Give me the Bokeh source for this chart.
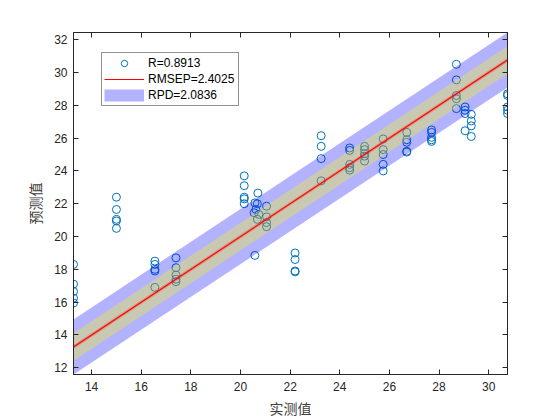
from bokeh.plotting import figure
from bokeh.models import Range1d, LinearAxis, FixedTicker, Legend, LegendItem
from bokeh.embed import file_html
from bokeh.resources import INLINE

# measured (x) and predicted (y) values of the prediction set
measured = [
    13.27, 13.27, 13.27, 13.27, 13.27,
    15.0, 15.0, 15.0, 15.0, 15.0,
    16.55, 16.55, 16.55, 16.55, 16.55,
    17.4, 17.4, 17.4, 17.4, 17.4,
    20.15, 20.15, 20.15, 20.15, 20.15,
    20.7, 20.58, 20.68, 20.62, 20.55, 20.74, 20.68, 20.58,
    21.05, 21.05, 21.05, 21.05,
    22.2, 22.2, 22.2, 22.2,
    23.25, 23.25, 23.25, 23.25,
    24.4, 24.4, 24.4, 24.4, 24.4,
    25.0, 25.0, 25.0, 25.0, 25.0,
    25.75, 25.75, 25.75, 25.75, 25.75,
    26.7, 26.7, 26.7, 26.7, 26.7,
    27.7, 27.7, 27.7, 27.7, 27.7,
    28.7, 28.7, 28.7, 28.7, 28.7,
    29.05, 29.05, 29.05, 29.05,
    29.3, 29.3, 29.3, 29.3,
    30.76, 30.76, 30.76, 30.76, 30.76,
]
predicted = [
    18.3, 17.1, 16.65, 16.25, 15.95,
    22.4, 21.65, 21.05, 20.95, 20.5,
    18.5, 18.3, 18.0, 17.9, 16.9,
    18.7, 18.1, 17.65, 17.4, 17.25,
    23.7, 23.1, 22.4, 22.3, 22.0,
    22.65, 22.05, 22.0, 21.65, 21.45, 21.35, 21.05, 18.85,
    21.85, 21.2, 20.85, 20.6,
    19.0, 18.6, 17.9, 17.85,
    26.15, 25.5, 24.75, 23.4,
    25.4, 25.25, 24.4, 24.2, 24.05,
    25.5, 25.3, 25.05, 24.9, 24.6,
    25.95, 25.3, 25.0, 24.4, 24.0,
    26.35, 25.9, 25.75, 25.2, 25.15,
    26.5, 26.35, 26.05, 25.9, 25.8,
    30.5, 29.55, 28.6, 28.4, 27.8,
    27.9, 27.7, 27.5, 26.45,
    27.45, 27.05, 26.75, 26.1,
    28.7, 28.6, 27.9, 27.7, 27.5,
]

stat_labels = ["R=0.8913", "RMSEP=2.4025", "RPD=2.0836"]
x_ticks = [14, 16, 18, 20, 22, 24, 26, 28, 30]
y_ticks = [12, 14, 16, 18, 20, 22, 24, 26, 28, 30, 32]

# half-widths of the tolerance bands around the 1:1 line
outer_band = 1.68
inner_band = 0.84
line_band = 0.12

x_lo, x_hi = min(measured), max(measured)
y_lo, y_hi = x_lo - outer_band, x_hi + outer_band

AX = "#262626"
FONT = "Liberation Sans"
CJK = "Noto Sans CJK SC"

p = figure(width=560, height=420, output_backend="svg", toolbar_location=None,
           x_range=Range1d(x_lo, x_hi), y_range=Range1d(y_lo, y_hi),
           min_border_left=73, min_border_right=53, min_border_top=32,
           min_border_bottom=46, background_fill_color="white",
           border_fill_color="white", outline_line_color=AX)
p.xgrid.visible = False
p.ygrid.visible = False

# scatter of predicted vs measured
pts = p.scatter(measured, predicted, marker="circle", size=8,
                fill_color=None, line_color="#0072BD", line_width=1)

# bands and fitted line (drawn over the points, translucent)
band_x = [x_lo, x_hi]
p.varea(x=band_x, y1=[v - outer_band for v in band_x],
        y2=[v + outer_band for v in band_x], fill_color="blue", fill_alpha=0.3)
p.varea(x=band_x, y1=[v - inner_band for v in band_x],
        y2=[v + inner_band for v in band_x], fill_color="yellow", fill_alpha=0.3)
p.varea(x=band_x, y1=[v - line_band for v in band_x],
        y2=[v + line_band for v in band_x], fill_color="red", fill_alpha=0.25)
fit = p.line(band_x, band_x, line_color="red", line_width=1.1)

# legend swatch for the outer band (no visible data)
nan = float("nan")
swatch = p.line(x=[nan, nan], y=[nan, nan], line_color="blue", line_alpha=0.3,
                line_width=12)

# axes
for ax, ticks in ((p.xaxis[0], x_ticks), (p.yaxis[0], y_ticks)):
    ax.ticker = FixedTicker(ticks=ticks)
    ax.major_tick_in = 5
    ax.major_tick_out = 0
    ax.minor_tick_in = 0
    ax.minor_tick_out = 0
    ax.axis_line_color = AX
    ax.major_tick_line_color = AX
    ax.major_label_text_font = FONT
    ax.major_label_text_font_size = "12px"
    ax.major_label_text_color = AX
    ax.axis_label_text_font = CJK
    ax.axis_label_text_font_size = "14px"
    ax.axis_label_text_font_style = "normal"
    ax.axis_label_text_color = "#404040"

p.xaxis[0].axis_label = "实测值"
p.yaxis[0].axis_label = "预测值"
p.xaxis[0].major_label_standoff = 7
p.xaxis[0].axis_label_standoff = 4
p.yaxis[0].major_label_standoff = 6
p.yaxis[0].axis_label_standoff = 6

# mirrored tick marks on the top and right edges
for place, ticks in (("above", x_ticks), ("right", y_ticks)):
    ax = LinearAxis(ticker=FixedTicker(ticks=ticks), major_tick_in=5,
                    major_tick_out=0, minor_tick_in=0, minor_tick_out=0,
                    axis_line_color=AX, major_tick_line_color=AX,
                    major_label_overrides={t: "" for t in ticks},
                    major_label_text_font_size="12px", major_label_standoff=0)
    p.add_layout(ax, place)

legend = Legend(items=[
    LegendItem(label=stat_labels[0], renderers=[pts]),
    LegendItem(label=stat_labels[1], renderers=[fit]),
    LegendItem(label=stat_labels[2], renderers=[swatch]),
], location=(28, 268), glyph_width=40, glyph_height=16, label_height=16,
    label_width=88, label_standoff=4, spacing=0, padding=2, margin=0,
    label_text_font=FONT, label_text_font_size="12px", label_text_color="black",
    border_line_color=AX, border_line_width=1, background_fill_color="white",
    background_fill_alpha=1.0)
p.add_layout(legend)

open("out.html", "w").write(file_html(p, INLINE))
